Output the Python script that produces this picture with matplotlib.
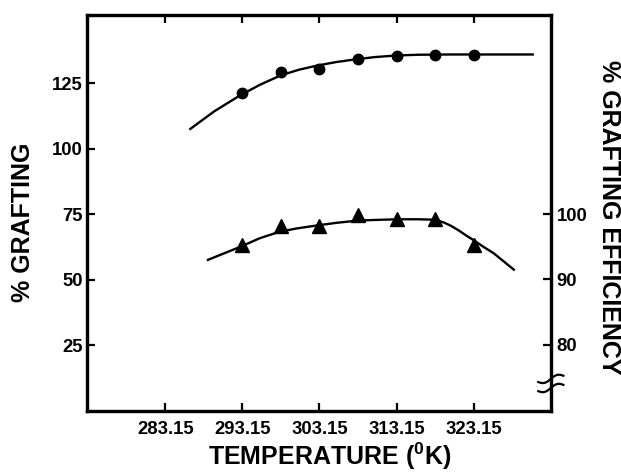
import numpy as np
import matplotlib
matplotlib.use("Agg")
import matplotlib.pyplot as plt

plt.rcParams['font.family'] = ['Liberation Sans', 'DejaVu Sans']
plt.rcParams['font.weight'] = 'bold'
plt.rcParams['mathtext.fontset'] = 'custom'
plt.rcParams['mathtext.rm'] = 'Liberation Sans:bold'
plt.rcParams['mathtext.bf'] = 'Liberation Sans:bold'

# measured points
temp = [293.15, 298.15, 303.15, 308.15, 313.15, 318.15, 323.15]
grafting = [121.4, 129.5, 130.5, 134.4, 135.6, 135.9, 135.9]
efficiency = [95.3, 98.2, 98.2, 99.8, 99.2, 99.2, 95.3]

# smooth curves as drawn through the points
graft_curve_t = [286.4, 289.5, 292.8, 295.4, 298.1, 300.5, 302.9, 305.3, 307.7,
                 310.3, 313.0, 316.0, 320.0, 325.0, 330.8]
graft_curve = [107.6, 114.3, 120.3, 124.4, 128.0, 130.2, 131.8, 133.1, 134.1,
               135.0, 135.6, 135.9, 136.0, 136.0, 136.0]
eff_curve_t = [288.7, 290.8, 292.9, 295.4, 298.0, 300.2, 302.5, 305.3, 308.1,
               310.4, 313.3, 316.0, 317.6, 318.5, 319.3, 320.2, 321.2, 322.2,
               323.15, 324.4, 325.75, 327.0, 328.35]
eff_curve = [93.0, 94.0, 95.0, 96.3, 97.3, 97.8, 98.2, 98.65, 99.0,
             99.1, 99.2, 99.2, 99.15, 99.0, 98.7, 98.2, 97.5, 96.7,
             96.0, 95.0, 94.0, 92.8, 91.5]

xticks = [283.15, 293.15, 303.15, 313.15, 323.15]
left_ticks = [25, 50, 75, 100, 125]
right_ticks = [80, 90, 100]

fig = plt.figure(figsize=(6.21, 4.74), dpi=100)
ax = fig.add_axes([0.140, 0.133, 0.747, 0.835])
ax2 = ax.twinx()

ax.plot(graft_curve_t, graft_curve, color='black', lw=1.7)
ax.plot(temp, grafting, 'o', color='black', ms=7.5)
ax2.plot(eff_curve_t, eff_curve, color='black', lw=1.7)
ax2.plot(temp, efficiency, '^', color='black', ms=9.5)

ax.set_xlim(273.0, 333.15)
ax.set_ylim(0, 151)
ax2.set_ylim(69.9, 130.4)

ax.set_xticks(xticks)
ax.set_xticklabels([f"{t:.2f}" for t in xticks])
ax.set_yticks(left_ticks)
ax2.set_yticks(right_ticks)

for a in (ax, ax2):
    for s in a.spines.values():
        s.set_linewidth(2.3)
ax.tick_params(axis='both', direction='in', length=6, width=1.6,
               labelsize=13.3, top=True, right=False)
ax.tick_params(axis='x', pad=7)
ax.tick_params(axis='y', pad=3)
ax2.tick_params(axis='y', direction='in', length=6, width=1.6,
                labelsize=13.3, pad=4)
for lab in ax.get_xticklabels() + ax.get_yticklabels() + ax2.get_yticklabels():
    lab.set_fontweight('bold')

# axis break mark on the right spine
xs = np.linspace(-1, 1, 40)
for y0 in (0.081, 0.058):
    bx = 1.0 + xs * 0.027
    by = y0 + 0.006 * np.sin(np.pi * xs) + xs * 0.008
    ax.plot(bx, by, color='black', lw=1.6, transform=ax.transAxes, clip_on=False)

fig.text(0.037, 0.532, '% GRAFTING', rotation=90, ha='center', va='center',
         fontsize=18, fontweight='bold')
fig.text(0.981, 0.542, '% GRAFTING EFFICIENCY', rotation=270, ha='center',
         va='center', fontsize=18, fontweight='bold')
fig.text(0.531, 0.004, r'TEMPERATURE ($^{0}$K)', ha='center', va='bottom',
         fontsize=18, fontweight='bold')

fig.savefig('out.png', dpi=100)
